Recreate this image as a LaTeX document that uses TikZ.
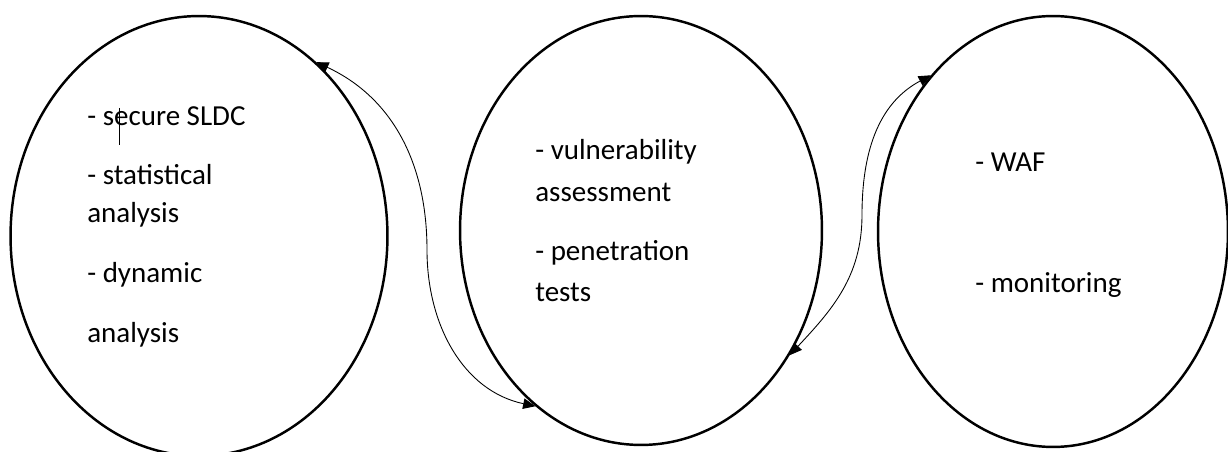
\documentclass[tikz,border=0pt]{standalone}
\usepackage{fontspec}
\setmainfont{Carlito}
\usetikzlibrary{arrows.meta,shapes.geometric}

\begin{document}
\begin{tikzpicture}[x=0.02cm, y=-0.02cm,
            blob/.style={ellipse, draw=black, line width=1.4pt, inner sep=0pt},
            item/.style={anchor=base west, inner sep=0pt,
                         font=\fontsize{16.5}{19}\selectfont},
            link/.style={{Triangle[length=7pt,width=6pt]}-{Triangle[length=7pt,width=6pt]},
                         line width=0.5pt}]
        \useasboundingbox (0,0) rectangle (1228,452);
        \node[blob, minimum width=7.54cm, minimum height=8.8cm]  (dev)  at (199,236)    {};
        \node[blob, minimum width=7.24cm, minimum height=8.58cm] (test) at (641,230.5)  {};
        \node[blob, minimum width=7.0cm,  minimum height=8.62cm] (prod) at (1053,231.5) {};
        \node[item] (d1) at (87,126)  {- secure SLDC};
        \node[item] (d2) at (87,185)  {- statistical};
        \node[item] (d3) at (87,223)  {analysis};
        \node[item] (d4) at (87,283)  {- dynamic};
        \node[item] (d5) at (87,343)  {analysis};
        \node[item] (t1) at (535,160) {- vulnerability};
        \node[item] (t2) at (535,202) {assessment};
        \node[item] (t3) at (535,261) {- penetration};
        \node[item] (t4) at (535,302) {tests};
        \node[item] (p1) at (975,172) {- WAF};
        \node[item] (p2) at (975,293) {- monitoring};
        \draw[line width=0.4pt] (119,108) -- (119,145);
        \coordinate (bend1) at (427,250);
        \coordinate (bend2) at (862,215);
        \draw[link] (dev.56) to[out=-25, in=90] (bend1) to[out=-90, in=168] (test.239);
        \draw[link] (test.320) to[out=47, in=-90] (bend2) to[out=90, in=208] (prod.128);
      \end{tikzpicture}
\end{document}
